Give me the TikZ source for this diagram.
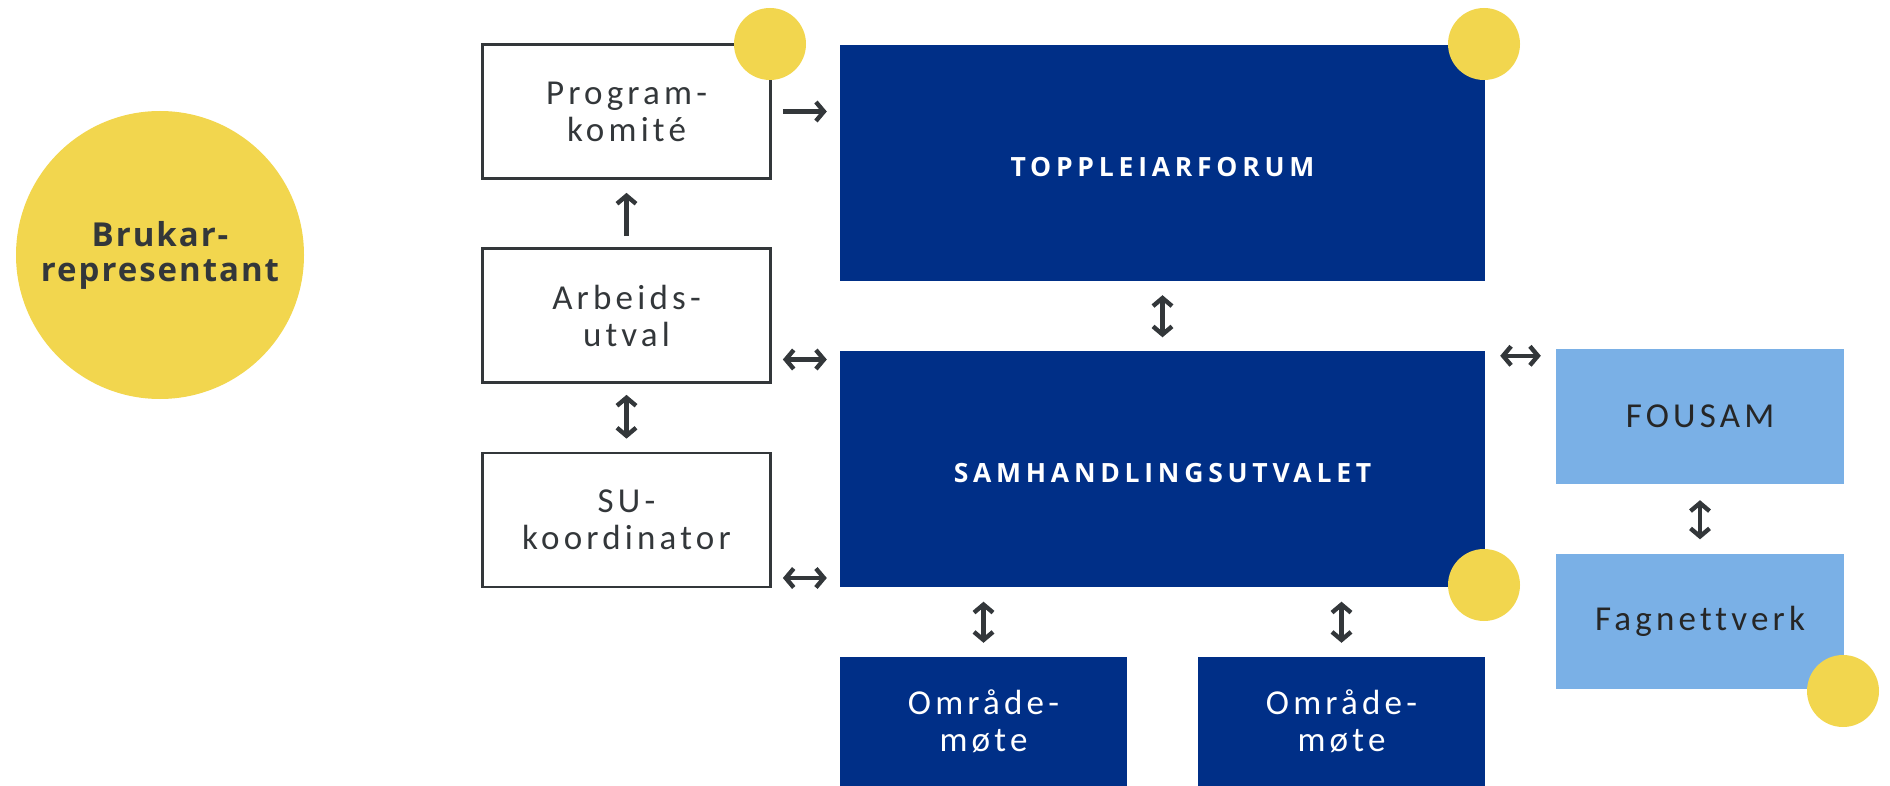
\documentclass[tikz,border=0pt]{standalone}
\usepackage{fontspec}
\setmainfont{Carlito}
\newfontfamily\labelfont{Carlito}[LetterSpace=12,Ligatures=CommonOff]
\newfontfamily\titlefont{Open Sans}[LetterSpace=18]
\newfontfamily\userfont{Open Sans}[LetterSpace=6]
\usetikzlibrary{%
  arrows.meta,%
  positioning,% wg. " of "
  calc%
}
\definecolor{navy}{RGB}{0,47,135}
\definecolor{skyblue}{RGB}{122,176,230}
\definecolor{sun}{RGB}{242,214,78}
\definecolor{ink}{RGB}{51,55,58}

\begin{document}
\begin{tikzpicture}[
  x=1pt, y=1pt,
  font=\labelfont\fontsize{35}{37}\selectfont,
  >={Straight Barb[length=8pt,width=19pt]},
  line width=4.4pt,
  every node/.style={align=center, inner sep=0pt},
  plainbox/.style={draw=ink, line width=2.7pt, text=ink,
    minimum width=288pt, minimum height=134pt},
  navybox/.style={fill=navy, text=white,
    minimum width=645pt, minimum height=236pt},
  skybox/.style={fill=skyblue, text=black!85,
    minimum width=288pt, minimum height=135pt},
  headline/.style={font=\titlefont\bfseries\fontsize{26.5}{30}\selectfont,
    text height=28pt},
  dot/.style={circle, fill=sun, minimum size=72pt},
  link/.style={ink, line width=4.4pt},
]

\useasboundingbox (0,0) rectangle (1890,-786);

% brukar
\node[dot, minimum size=288pt, text=ink,
  font=\userfont\bfseries\fontsize{33}{35}\selectfont] (bruk) at (160,-255) {Brukar-\\representant};

% left column
\node[plainbox] (prog) at (626.5,-111.5) {Program-\\komité};
\node[plainbox] (arb) at (626.5,-315.5) {Arbeids-\\utval};
\node[plainbox] (suk) at (626.5,-520) {SU-\\koordinator};

% middle
\node[navybox, headline] (topp) at (1162.5,-163) {TOPPLEIARFORUM};
\node[navybox, headline] (samh) at (1162.5,-468.5) {SAMHANDLINGSUTVALET};
\node[navybox, minimum width=287pt, minimum height=129pt] (omr1) at (983.5,-721.5) {Område-\\møte};
\node[navybox, minimum width=287pt, minimum height=129pt] (omr2) at (1341.5,-721.5) {Område-\\møte};

% right column
\node[skybox] (fou) at (1700,-416.5) {FOUSAM};
\node[skybox] (fag) at (1700,-621) {Fagnettverk};

% dots
\node[dot] (dprog) at (770,-44) {};
\node[dot] (dtopp) at (1484,-44) {};
\node[dot] (dsamh) at (1484,-585) {};
\node[dot] (dfag) at (1843,-691) {};

% connectors
\coordinate (arby) at ([yshift=-44pt]arb.east);
\coordinate (suky) at ([yshift=-58pt]suk.east);
\coordinate (fouy) at ([yshift=-9pt]fou.north west);

\draw[link,->,shorten <=11pt,shorten >=11pt] (prog.east) -- (prog.east -| topp.west);
\draw[link,->,shorten <=11pt,shorten >=13pt] (arb.north) -- (prog.south);
\draw[link,<->,shorten <=11pt,shorten >=13pt] (arb.south) -- (suk.north);
\draw[link,<->,shorten <=11pt,shorten >=11pt] (arby) -- (arby -| samh.west);
\draw[link,<->,shorten <=11pt,shorten >=11pt] (suky) -- (suky -| samh.west);
\draw[link,<->,shorten <=12pt,shorten >=11pt] (topp.south) -- (samh.north);
\draw[link,<->,shorten <=13pt,shorten >=13pt] (fouy -| samh.east) -- (fouy);
\draw[link,<->,shorten <=14pt,shorten >=12pt] (fou.south) -- (fag.north);
\draw[link,<->,shorten <=13pt,shorten >=12pt] (samh.south -| omr1.north) -- (omr1.north);
\draw[link,<->,shorten <=13pt,shorten >=12pt] (samh.south -| omr2.north) -- (omr2.north);

\end{tikzpicture}
\end{document}
